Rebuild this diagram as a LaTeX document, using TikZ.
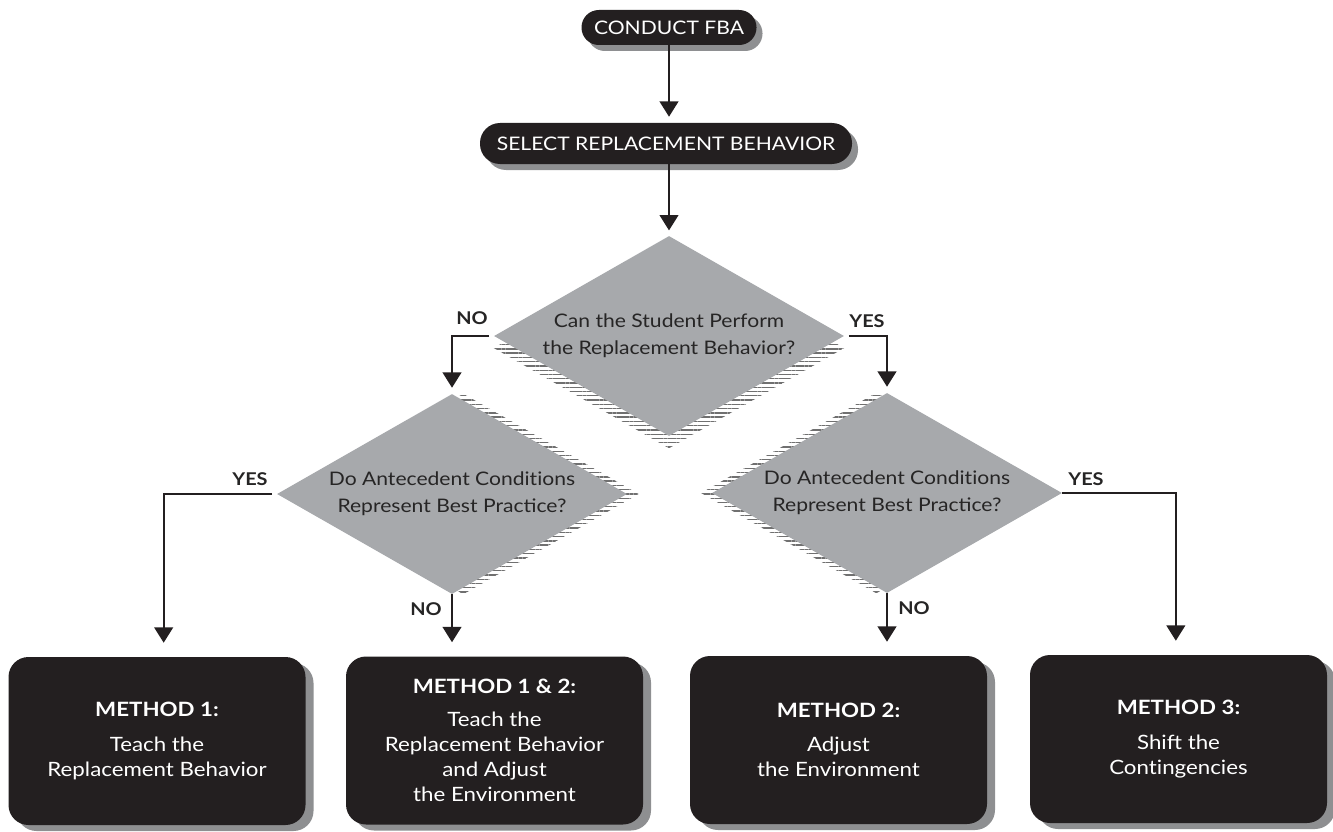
\documentclass[tikz,border=0pt]{standalone}
\usepackage{fontspec}
\setmainfont{Lato}[FakeStretch=1.13]
\usetikzlibrary{shapes.geometric,arrows.meta,patterns.meta,shadows,backgrounds}
\definecolor{boxblack}{HTML}{231F20}
\definecolor{diagray}{HTML}{A7A9AC}
\definecolor{shgray}{HTML}{8E8F91}
\definecolor{txtdark}{HTML}{262525}
\definecolor{stripe}{HTML}{707070}
\newcommand\nolig{\kern0pt\relax}
\newcommand\diashadow[3]{\fill[stripeshadow] ([xshift=#2,yshift=#3]#1.north) -- ([xshift=#2,yshift=#3]#1.east) -- ([xshift=#2,yshift=#3]#1.south) -- ([xshift=#2,yshift=#3]#1.west) -- cycle;}
\begin{document}
\begin{tikzpicture}[x=0.75pt,y=-0.75pt,
  pill/.style={rectangle, fill=boxblack, text=white, inner sep=0pt,
    drop shadow={shadow xshift=4.5pt, shadow yshift=-4.5pt, fill=shgray, opacity=1},
    font=\fontsize{14}{16}\selectfont},
  dia/.style={diamond, aspect=1.75, fill=diagray, text=txtdark, inner sep=0pt,
    minimum width=262.5pt, minimum height=150pt, align=center,
    font=\fontsize{14}{20}\selectfont},
  mbox/.style={rectangle, rounded corners=15pt, fill=boxblack, text=white,
    minimum width=222.75pt, minimum height=126pt, align=center, inner sep=0pt,
    drop shadow={shadow xshift=6pt, shadow yshift=-4.5pt, fill=shgray, opacity=1},
    font=\fontsize{14.8}{18.75}\selectfont},
  lbl/.style={text=txtdark, font=\bfseries\fontsize{13.2}{14}\selectfont, inner sep=0pt},
  conn/.style={draw=boxblack, line width=1.5pt, -{Triangle[width=14pt,length=11.5pt]}},
  stripeshadow/.style={pattern={Lines[angle=0,distance=3.2pt,line width=1pt]}, pattern color=stripe}
]
\useasboundingbox (0,0) rectangle (1333,831);

% top pills
\node[pill, minimum width=131.25pt, minimum height=26.25pt, rounded corners=13pt] (p1) at (669,27.5) {CONDUCT FBA};
\node[pill, minimum width=279pt, minimum height=30.75pt, rounded corners=15pt] (p2) at (666,143.5) {SELECT REPLACEMENT BEHAVIOR};

% diamonds
\node[dia] (d1) at (669,336) {Can the Student Perform\\the Replacement Behavior?};
\node[dia] (d2) at (452,494) {Do Antecedent Condit\nolig ions\\Represent Best Practice?};
\node[dia] (d3) at (887,493) {Do Antecedent Condit\nolig ions\\Represent Best Practice?};

\begin{scope}[on background layer]
  \diashadow{d1}{0pt}{-9pt}
  \diashadow{d2}{8.5pt}{0pt}
  \diashadow{d3}{-8pt}{0pt}
\end{scope}

% method boxes
\node[mbox] (b1) at (157,741) {\textbf{METHOD 1:}\\[7pt]Teach the\\Replacement Behavior};
\node[mbox] (b2) at (494.5,740.5) {\textbf{METHOD 1 \& 2:}\\[6pt]Teach the\\Replacement Behavior\\and Adjust\\the Environment};
\node[mbox] (b3) at (838.5,740) {\textbf{METHOD 2:}\\[7pt]Adjust\\the Environment};
\node[mbox] (b4) at (1178.5,739) {\textbf{METHOD 3:}\\[7pt]Shift the\\Cont\nolig ingencies};

% connectors
\draw[conn, shorten >=4.5pt] (p1.south) -- (p1.south |- p2.north);
\draw[conn, shorten >=4pt] (p2.south -| d1.north) -- (d1.north);
\draw[conn, shorten <=3.5pt, shorten >=4.5pt] (d1.west) -| (d2.north);
\draw[conn, shorten <=3.5pt, shorten >=4.5pt] (d1.east) -| (d3.north);
\draw[conn, shorten <=3.5pt, shorten >=10.5pt] (d2.west) -| ([xshift=5pt]b1.north);
\draw[conn, shorten >=10.5pt] (d2.south) -- (d2.south |- b2.north);
\draw[conn, shorten >=10.5pt] (d3.south) -- (d3.south |- b3.north);
\draw[conn, shorten >=10.5pt] (d3.east) -| ([xshift=-2pt]b4.north);

% labels
\node[lbl] (l1) at (472,318.5) {NO};
\node[lbl] (l2) at (867,321) {YES};
\node[lbl] (l3) at (250,479.5) {YES};
\node[lbl] (l4) at (426,609) {NO};
\node[lbl] (l5) at (914,608.5) {NO};
\node[lbl] (l6) at (1086,479.5) {YES};
\end{tikzpicture}
\end{document}
